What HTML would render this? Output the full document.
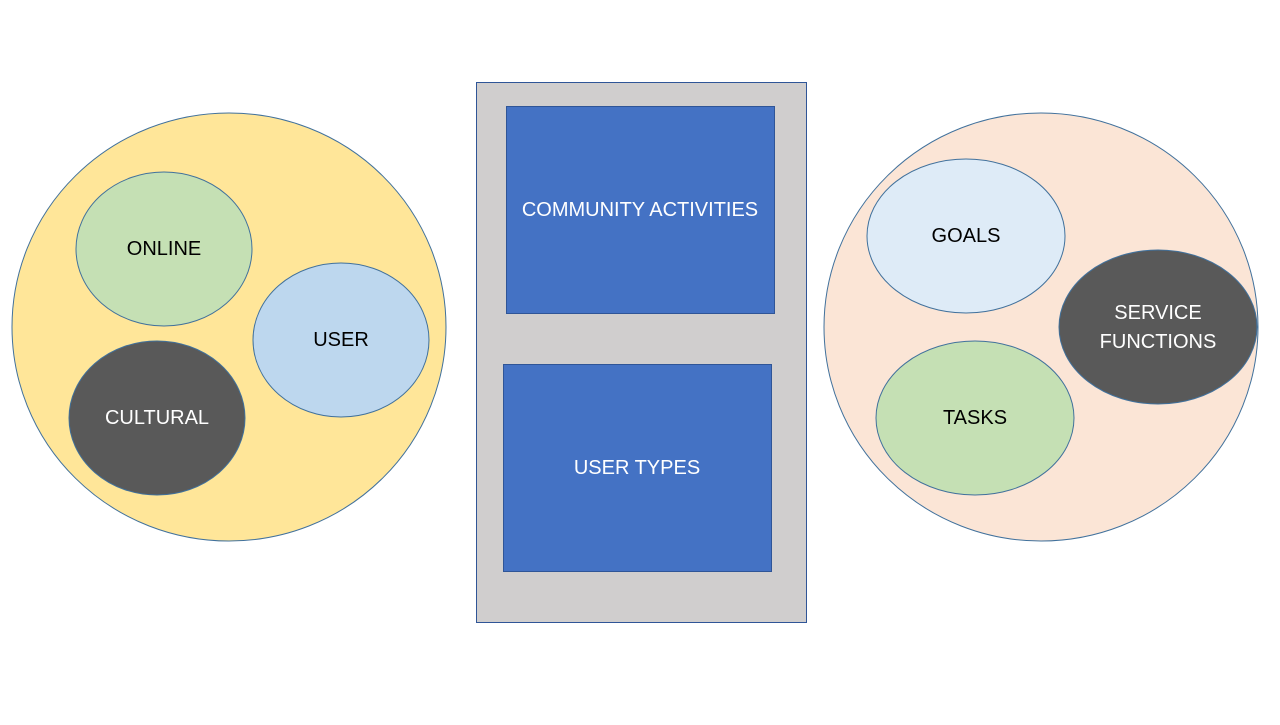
<!DOCTYPE html>
<html><head><style>body{margin:0;background:#fff}</style></head><body>
<svg width="1280" height="720" viewBox="0 0 1280 720" xmlns="http://www.w3.org/2000/svg" font-family="'Liberation Sans', sans-serif" font-size="20" text-anchor="middle">
<rect width="1280" height="720" fill="#fff"/>
<ellipse cx="229" cy="327" rx="217" ry="214" fill="#ffe699" stroke="#41719c" stroke-width="1"/>
<ellipse cx="164" cy="249" rx="88" ry="77" fill="#c5e0b4" stroke="#41719c"/>
<text x="164" y="255" fill="#000">ONLINE</text>
<ellipse cx="341" cy="340" rx="88" ry="77" fill="#bdd7ee" stroke="#41719c"/>
<text x="341" y="346" fill="#000">USER</text>
<ellipse cx="157" cy="418" rx="88" ry="77" fill="#595959" stroke="#41719c"/>
<text x="157" y="424" fill="#fff">CULTURAL</text>
<rect x="476.5" y="82.5" width="330" height="540" fill="#d0cece" stroke="#2f5597"/>
<rect x="506.5" y="106.5" width="268" height="207" fill="#4472c4" stroke="#2f5597"/>
<text x="640" y="216" fill="#fff">COMMUNITY ACTIVITIES</text>
<rect x="503.5" y="364.5" width="268" height="207" fill="#4472c4" stroke="#2f5597"/>
<text x="637" y="474" fill="#fff">USER TYPES</text>
<ellipse cx="1041" cy="327" rx="217" ry="214" fill="#fbe5d6" stroke="#41719c"/>
<ellipse cx="966" cy="236" rx="99" ry="77" fill="#deebf7" stroke="#41719c"/>
<text x="966" y="242" fill="#000">GOALS</text>
<ellipse cx="1158" cy="327" rx="99" ry="77" fill="#595959" stroke="#41719c"/>
<text x="1158" y="319" fill="#fff">SERVICE</text>
<text x="1158" y="348" fill="#fff">FUNCTIONS</text>
<ellipse cx="975" cy="418" rx="99" ry="77" fill="#c5e0b4" stroke="#41719c"/>
<text x="975" y="424" fill="#000">TASKS</text>
</svg>
</body></html>
